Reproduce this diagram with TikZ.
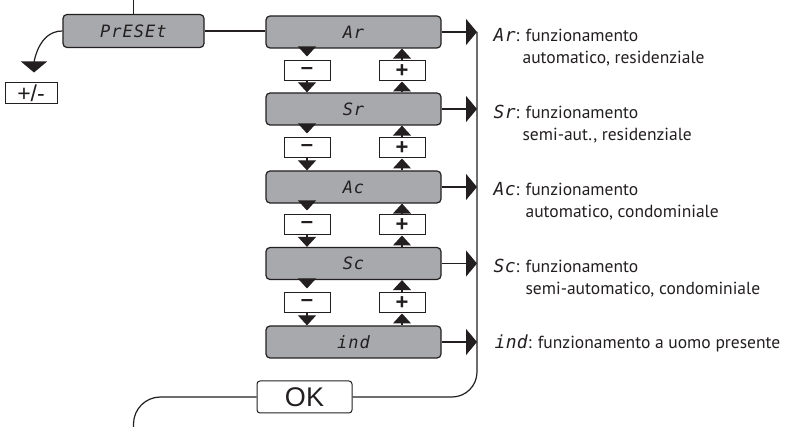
\documentclass[tikz,border=0pt]{standalone}
\usepackage{fontspec}
\setmainfont{PT Sans}
\newfontfamily\segfont[LetterSpace=6]{DejaVu Sans Mono}
\newfontfamily\dsegfont[LetterSpace=2]{DejaVu Sans Mono}
\newfontfamily\keyfont{Liberation Sans}
\usetikzlibrary{arrows.meta}

\definecolor{lcdgray}{HTML}{A7A9AC}
\definecolor{ink}{HTML}{231F20}

\newcommand{\segtxt}[1]{{\dsegfont\itshape\fontsize{18}{18}\selectfont #1}}

\begin{document}
\begin{tikzpicture}[x=1pt, y=-1pt, line width=1.2pt, color=ink,
        lcd/.style={draw, fill=lcdgray, rounded corners=4pt, inner sep=0pt,
            minimum width=175pt, minimum height=32pt,
            font=\segfont\itshape\fontsize{17}{17}\selectfont},
        key/.style={draw, fill=white, inner sep=0pt, line width=1pt,
            minimum width=46pt, minimum height=20pt,
            font=\keyfont\bfseries\fontsize{22}{22}\selectfont},
        tri/.style={-{Triangle[width=18pt, length=10pt]}},
        bigtri/.style={-{Triangle[width=26pt, length=11pt]}},
        desc/.style={anchor=base west, inner sep=0pt,
            font=\fontsize{17.5}{17.5}\selectfont}]
        \useasboundingbox (0, 0) rectangle (790, 427);
        % display boxes
        \node[lcd, minimum width=141pt, minimum height=33pt] (preset) at (133.5, 31) {PrESEt};
        \node[lcd] (ar) at (353.5, 32) {Ar};
        \node[lcd] (sr) at (353.5, 109) {Sr};
        \node[lcd] (ac) at (353.5, 187) {Ac};
        \node[lcd] (sc) at (353.5, 263.5) {Sc};
        \node[lcd] (ind) at (353.5, 342) {ind};
        \node[key, minimum width=52pt, minimum height=21pt, font=\keyfont\fontsize{23}{23}\selectfont] (pm) at (31, 93.5) {+/-};
        \node[draw, fill=white, rounded corners=3pt, line width=1pt, minimum width=95pt, minimum height=32pt,
            inner sep=0pt, font=\keyfont\fontsize{27}{27}\selectfont] (ok) at (304.5, 397) {OK};
        % keys
        \node[key] (m1) at (307, 71) {\textendash};
        \node[key] (p1) at (402, 71) {+};
        \node[key] (m2) at (307, 148) {\textendash};
        \node[key] (p2) at (402, 148) {+};
        \node[key] (m3) at (307, 225) {\textendash};
        \node[key] (p3) at (402, 225) {+};
        \node[key] (m4) at (307, 303) {\textendash};
        \node[key] (p4) at (402, 303) {+};
        \draw[tri, shorten >=4pt] (ar.south -| m1) -- (m1.north);
        \draw[tri] (m1.south) -- (sr.north -| m1);
        \draw[tri] (p1.north) -- (ar.south -| p1);
        \draw[tri] (sr.north -| p1) -- (p1.south);
        \draw[tri, shorten >=4pt] (sr.south -| m2) -- (m2.north);
        \draw[tri] (m2.south) -- (ac.north -| m2);
        \draw[tri] (p2.north) -- (sr.south -| p2);
        \draw[tri] (ac.north -| p2) -- (p2.south);
        \draw[tri, shorten >=4pt] (ac.south -| m3) -- (m3.north);
        \draw[tri] (m3.south) -- (sc.north -| m3);
        \draw[tri] (p3.north) -- (ac.south -| p3);
        \draw[tri] (sc.north -| p3) -- (p3.south);
        \draw[tri, shorten >=4pt] (sc.south -| m4) -- (m4.north);
        \draw[tri] (m4.south) -- (ind.north -| m4);
        \draw[tri] (p4.north) -- (sc.south -| p4);
        \draw[tri] (ind.north -| p4) -- (p4.south);
        % loop
        \coordinate (rtop) at (477, 32);
        \coordinate (ltop) at (133.5, 0);
        \coordinate (lbot) at (133.5, 427);
        \draw (ltop) -- (preset.north);
        \draw (preset.east) -- (preset.east -| ar.west);
        \draw[rounded corners=25pt] (rtop) |- (ok.east);
        \draw[rounded corners=27pt] (ok.west) -| (lbot);
        \draw[bigtri, shorten >=10pt] (preset.west) .. controls +(-25, 0) and +(0, -18) .. ([xshift=3pt]pm.north);
        \draw[bigtri] (ar.east) -- (ar.east -| rtop);
        \draw[bigtri] (sr.east) -- (sr.east -| rtop);
        \draw[bigtri] (ac.east) -- (ac.east -| rtop);
        \draw[bigtri] (sc.east) -- (sc.east -| rtop);
        \draw[bigtri] (ind.east) -- (ind.east -| rtop);
        % descriptions
        \node[desc] (dar1) at (493, 42) {\segtxt{Ar}: funzionamento};
        \node[desc] (dar2) at (522, 64) {automatico, residenziale};
        \node[desc] (dsr1) at (493, 119) {\segtxt{Sr}: funzionamento};
        \node[desc] (dsr2) at (522, 141) {semi-aut., residenziale};
        \node[desc] (dac1) at (493, 196) {\segtxt{Ac}: funzionamento};
        \node[desc] (dac2) at (525, 218) {automatico, condominiale};
        \node[desc] (dsc1) at (493, 273) {\segtxt{Sc}: funzionamento};
        \node[desc] (dsc2) at (525, 295) {semi-automatico, condominiale};
        \node[desc] (dind) at (494, 349) {\segtxt{ind}: funzionamento a uomo presente};
\end{tikzpicture}
\end{document}
